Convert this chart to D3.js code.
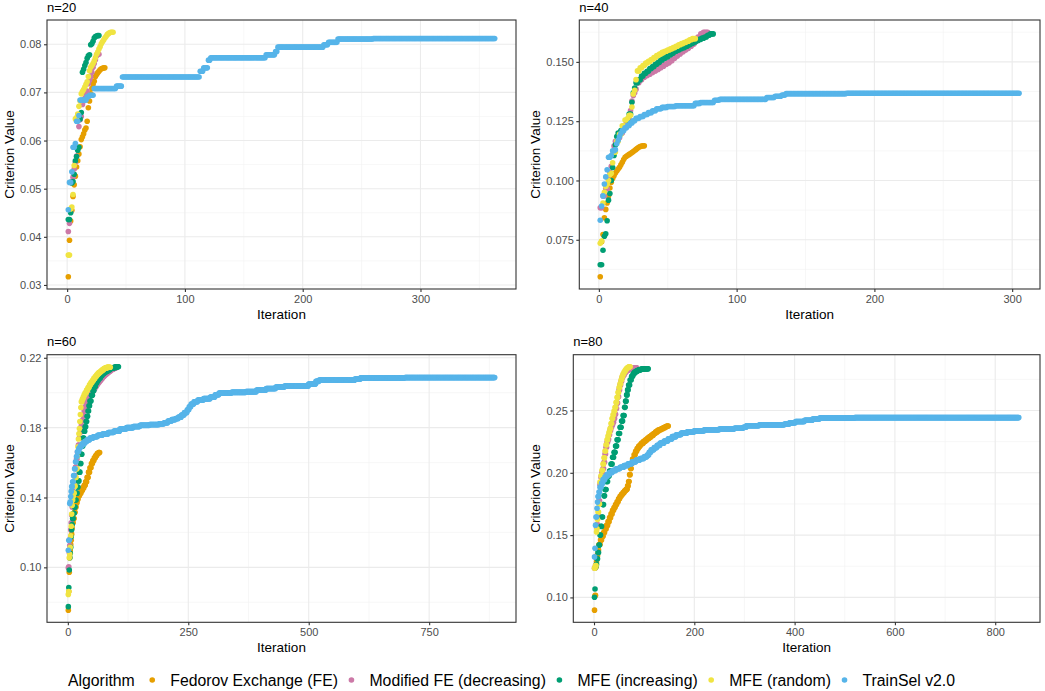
<!DOCTYPE html>
<html>
<head>
<meta charset="utf-8">
<script src="https://cdn.jsdelivr.net/npm/d3@7"></script>
<style>
  body { margin: 0; background: #fff; }
  svg { display: block; font-family: "Liberation Sans", Arial, sans-serif; }
</style>
</head>
<body>
<div id="chart"></div>
<script>
// algorithms, in legend / drawing order
const algorithms = ["Fedorov Exchange (FE)", "Modified FE (decreasing)", "MFE (increasing)", "MFE (random)", "TrainSel v2.0"];
const colors = ["#E69F00", "#CC79A7", "#009E73", "#F0E442", "#56B4E9"];
const panelTitles = ["n=20", "n=40", "n=60", "n=80"];

// each series: [iteration, criterion value]; the value is held until the next entry
// ---- n=20 ----
const fe20 = [[1,0.0317],[2,0.0393],[3,0.0433],[4,0.0455],[5,0.0484],[6,0.0508],[7,0.0526],[8,0.0545],[9,0.0558],[10,0.0572],[11,0.0587],[12,0.0602],[13,0.0608],[14,0.0614],[15,0.0622],[16,0.0626],[17,0.064],[18,0.0668],[19,0.0682],[20,0.0697],[21,0.0708],[22,0.0717],[23,0.0723],[24,0.0733],[25,0.0737],[26,0.0741],[27,0.0744],[28,0.0747],[29,0.0749],[30,0.075],[31,0.0751]];
const mfeDec20 = [[1,0.0411],[2,0.0428],[3,0.0452],[4,0.0515],[5,0.0524],[6,0.0541],[7,0.0555],[8,0.0568],[9,0.0585],[10,0.0629],[11,0.0643],[12,0.065],[13,0.0675],[14,0.0682],[15,0.0688],[16,0.0695],[17,0.0703],[18,0.0718],[19,0.0725],[20,0.0732],[21,0.0742],[22,0.0752],[23,0.076],[24,0.0768],[25,0.0776],[26,0.0779]];
const mfeInc20 = [[1,0.0436],[3,0.045],[4,0.0512],[5,0.0515],[6,0.053],[7,0.0558],[8,0.0567],[9,0.058],[10,0.0586],[11,0.0645],[12,0.0658],[13,0.0742],[14,0.0748],[15,0.0756],[16,0.0762],[17,0.0771],[18,0.0776],[19,0.0778],[20,0.0799],[21,0.0801],[22,0.0806],[23,0.0813],[24,0.0816],[25,0.0817],[26,0.0818]];
const mfeRand20 = [[1,0.0362],[3,0.0458],[4,0.0462],[5,0.0488],[6,0.0548],[7,0.0645],[8,0.0648],[9,0.0655],[10,0.0671],[11,0.0682],[12,0.0697],[13,0.0702],[14,0.0706],[15,0.0711],[16,0.0717],[17,0.0722],[18,0.0733],[19,0.0745],[20,0.0752],[21,0.0756],[22,0.076],[23,0.0765],[24,0.0772],[25,0.0779],[26,0.0784],[27,0.079],[28,0.0795],[29,0.0801],[30,0.0805],[31,0.0809],[32,0.0813],[33,0.0816],[34,0.082],[35,0.0822],[36,0.0824],[37,0.0825]];
const trainSel20 = [[1,0.0456],[2,0.0513],[4,0.0535],[5,0.0586],[7,0.0594],[8,0.064],[10,0.0652],[11,0.0684],[17,0.0691],[19,0.0694],[23,0.0708],[42,0.0713],[47,0.0732],[113,0.0744],[116,0.0751],[120,0.0767],[122,0.0772],[169,0.0778],[177,0.0785],[179,0.0794],[218,0.0799],[222,0.0804],[230,0.0811],[260,0.0812]];
const last20 = [32, 27, 27, 39, 363];
const xTicks20 = [0, 100, 200, 300];
const yTicks20 = [0.03, 0.04, 0.05, 0.06, 0.07, 0.08];

// ---- n=40 ----
const fe40 = [[1,0.0594],[2,0.0742],[3,0.0772],[4,0.0843],[5,0.0878],[6,0.0905],[7,0.0935],[8,0.0968],[9,0.0992],[10,0.1008],[11,0.102],[12,0.1031],[13,0.104],[14,0.1048],[15,0.1056],[16,0.1066],[17,0.1077],[18,0.1088],[19,0.1098],[20,0.1102],[21,0.1106],[22,0.111],[23,0.1114],[24,0.1118],[25,0.1122],[26,0.1126],[27,0.1131],[28,0.1136],[29,0.114],[30,0.1143],[31,0.1145],[32,0.1146]];
const mfeDec40 = [[1,0.0885],[3,0.0935],[5,0.0965],[7,0.1005],[8,0.1035],[9,0.106],[10,0.111],[11,0.1145],[12,0.1165],[14,0.118],[16,0.12],[18,0.1222],[20,0.1245],[22,0.1265],[23,0.1295],[24,0.1335],[25,0.1358],[26,0.137],[27,0.1385],[28,0.1412],[30,0.1425],[32,0.1435],[34,0.1442],[36,0.1448],[38,0.1455],[40,0.1462],[42,0.1468],[44,0.1475],[46,0.1482],[48,0.149],[50,0.1496],[52,0.1505],[54,0.1515],[56,0.1525],[58,0.1533],[60,0.1542],[62,0.155],[64,0.1557],[66,0.1566],[68,0.1575],[70,0.1588],[72,0.1605],[74,0.1618],[76,0.1625]];
const mfeInc40 = [[1,0.0645],[3,0.0706],[4,0.0765],[5,0.0775],[6,0.083],[7,0.0917],[8,0.0945],[9,0.1],[10,0.1055],[11,0.1105],[12,0.115],[13,0.1185],[14,0.12],[16,0.121],[18,0.1225],[20,0.1255],[22,0.128],[24,0.133],[25,0.137],[26,0.139],[27,0.1412],[29,0.1425],[31,0.144],[33,0.1452],[35,0.146],[37,0.1472],[39,0.148],[41,0.149],[43,0.1498],[45,0.1508],[47,0.1515],[49,0.1522],[51,0.153],[53,0.1537],[55,0.1545],[57,0.155],[59,0.1556],[61,0.156],[63,0.1566],[65,0.1572],[67,0.1578],[69,0.1584],[71,0.159],[73,0.1595],[75,0.16],[77,0.1605],[79,0.1612],[81,0.1618]];
const mfeRand40 = [[1,0.0735],[2,0.0745],[3,0.0905],[4,0.095],[5,0.0975],[6,0.0985],[7,0.1],[8,0.1025],[9,0.103],[10,0.1075],[11,0.112],[13,0.1165],[15,0.1195],[17,0.123],[19,0.1255],[21,0.1262],[22,0.1275],[24,0.131],[25,0.1365],[26,0.138],[27,0.1425],[28,0.1462],[30,0.1475],[32,0.1485],[34,0.1495],[36,0.1502],[38,0.151],[40,0.1518],[42,0.1527],[44,0.1533],[46,0.154],[48,0.1545],[50,0.155],[52,0.1555],[54,0.156],[56,0.1566],[58,0.1572],[60,0.1577],[62,0.1582],[64,0.1587],[66,0.1593],[68,0.1598]];
const trainSel40 = [[1,0.0832],[2,0.0892],[3,0.0935],[4,0.0985],[5,0.1015],[6,0.1045],[7,0.1098],[9,0.1105],[10,0.1125],[12,0.113],[13,0.1155],[14,0.117],[15,0.1185],[16,0.1198],[17,0.121],[19,0.1222],[21,0.1232],[23,0.1242],[25,0.1252],[27,0.1262],[30,0.127],[33,0.1278],[36,0.1286],[39,0.1294],[42,0.1302],[46,0.1308],[50,0.1312],[56,0.1315],[70,0.1325],[74,0.1329],[84,0.1338],[88,0.1342],[122,0.135],[128,0.1355],[133,0.136],[136,0.1366],[180,0.1368]];
const last40 = [33, 79, 83, 70, 305];
const xTicks40 = [0, 100, 200, 300];
const yTicks40 = [0.075, 0.1, 0.125, 0.15];

// ---- n=60 ----
const fe60 = [[1,0.0755],[2,0.0862],[3,0.0972],[4,0.1055],[5,0.1095],[6,0.113],[7,0.1155],[8,0.119],[9,0.1225],[10,0.1255],[12,0.128],[14,0.1315],[16,0.1345],[18,0.137],[20,0.139],[22,0.141],[25,0.1425],[28,0.144],[31,0.1455],[34,0.147],[37,0.149],[40,0.1515],[43,0.1545],[46,0.157],[49,0.1595],[52,0.1612],[55,0.1628],[58,0.164],[61,0.1652],[64,0.1658]];
const mfeDec60 = [[1,0.0998],[2,0.1003],[3,0.1085],[4,0.1125],[5,0.1165],[6,0.1215],[7,0.1255],[8,0.13],[9,0.1345],[10,0.1395],[11,0.1435],[12,0.1475],[14,0.1525],[16,0.1575],[18,0.162],[20,0.166],[22,0.17],[24,0.174],[26,0.1775],[28,0.181],[30,0.184],[32,0.1868],[34,0.1895],[36,0.192],[38,0.1942],[40,0.196],[42,0.1972],[45,0.1985],[48,0.1998],[51,0.201],[54,0.2022],[57,0.2035],[60,0.2048],[63,0.206],[66,0.207],[69,0.208],[72,0.209],[75,0.2098],[78,0.2106],[81,0.2113],[84,0.212],[87,0.2126],[90,0.2131],[93,0.2136],[96,0.214],[99,0.2143]];
const mfeInc60 = [[1,0.0775],[2,0.0885],[3,0.0985],[4,0.1055],[5,0.108],[6,0.1115],[7,0.1175],[8,0.1215],[9,0.1245],[10,0.128],[12,0.131],[14,0.1345],[16,0.1385],[18,0.1425],[20,0.146],[22,0.1495],[24,0.1545],[26,0.1595],[28,0.1648],[30,0.1695],[32,0.174],[34,0.178],[36,0.1805],[38,0.1835],[40,0.1865],[42,0.1895],[44,0.1925],[46,0.1952],[49,0.1985],[52,0.2012],[55,0.2035],[58,0.2055],[61,0.207],[64,0.2083],[68,0.2098],[72,0.211],[76,0.2118],[80,0.2125],[84,0.2132],[88,0.2138],[92,0.2142],[96,0.2145],[100,0.2148]];
const mfeRand60 = [[1,0.0845],[2,0.0862],[3,0.1055],[4,0.1075],[5,0.1115],[6,0.118],[7,0.1235],[8,0.1305],[9,0.1355],[10,0.1385],[11,0.1405],[12,0.1425],[14,0.1465],[16,0.1515],[18,0.1565],[20,0.1635],[21,0.169],[22,0.1735],[23,0.1765],[24,0.1795],[25,0.1835],[26,0.1875],[27,0.1915],[28,0.1948],[30,0.1962],[32,0.1975],[34,0.1988],[36,0.2],[39,0.2015],[42,0.203],[45,0.2045],[48,0.2058],[51,0.207],[54,0.2082],[57,0.2093],[60,0.2103],[63,0.2112],[66,0.2119],[69,0.2126],[72,0.2132],[75,0.2138],[78,0.2142],[81,0.2145],[84,0.2146]];
const trainSel60 = [[1,0.1098],[2,0.1155],[4,0.1365],[5,0.1375],[6,0.1405],[7,0.1435],[8,0.1462],[10,0.149],[12,0.1525],[14,0.1565],[16,0.1605],[18,0.1635],[20,0.1662],[23,0.1682],[26,0.1695],[30,0.1708],[35,0.172],[40,0.173],[46,0.174],[53,0.1748],[62,0.1756],[72,0.1764],[84,0.1772],[96,0.178],[108,0.1792],[122,0.18],[136,0.1806],[150,0.1813],[170,0.1818],[190,0.1822],[200,0.1828],[208,0.1838],[216,0.1846],[224,0.1852],[230,0.186],[236,0.1872],[242,0.1886],[248,0.1902],[252,0.192],[256,0.1935],[262,0.1948],[270,0.1958],[282,0.1966],[296,0.1975],[306,0.1988],[314,0.1998],[340,0.2002],[370,0.2006],[392,0.2015],[412,0.2024],[432,0.2033],[450,0.2038],[500,0.205],[515,0.2065],[522,0.2072],[596,0.2078],[608,0.2085],[700,0.2087]];
const last60 = [66, 100, 105, 88, 886];
const xTicks60 = [0, 250, 500, 750];
const yTicks60 = [0.1, 0.14, 0.18, 0.22];

// ---- n=80 ----
const fe80 = [[1,0.0898],[2,0.1015],[3,0.1018],[4,0.1245],[5,0.1285],[6,0.1335],[8,0.138],[10,0.1425],[13,0.146],[16,0.149],[19,0.152],[22,0.155],[25,0.1578],[28,0.1608],[31,0.164],[34,0.167],[37,0.17],[40,0.1722],[43,0.1745],[46,0.1768],[49,0.1792],[52,0.1812],[55,0.1828],[58,0.1842],[61,0.1855],[64,0.1868],[67,0.1895],[69,0.193],[71,0.1985],[73,0.2035],[75,0.2075],[77,0.211],[80,0.2145],[83,0.2172],[86,0.2195],[89,0.2212],[92,0.2225],[95,0.2238],[99,0.2252],[103,0.2265],[107,0.2278],[111,0.229],[115,0.2302],[119,0.2315],[123,0.2328],[127,0.234],[131,0.2348],[135,0.2356],[139,0.2364],[143,0.2371],[146,0.2376]];
const mfeDec80 = [[1,0.1235],[3,0.1255],[5,0.1565],[6,0.1585],[8,0.165],[10,0.1775],[12,0.1905],[14,0.1965],[16,0.2005],[18,0.2035],[20,0.2085],[22,0.215],[24,0.2205],[26,0.2245],[28,0.2268],[30,0.2305],[32,0.234],[34,0.2365],[36,0.2385],[38,0.2405],[40,0.2435],[42,0.247],[44,0.2515],[46,0.256],[48,0.261],[50,0.2665],[52,0.2705],[54,0.2735],[56,0.2765],[58,0.2785],[61,0.2805],[64,0.2818],[68,0.2828],[72,0.2835],[77,0.2839],[81,0.2842]];
const mfeInc80 = [[1,0.1002],[2,0.1068],[3,0.124],[4,0.1255],[5,0.1265],[6,0.131],[8,0.136],[10,0.142],[12,0.15],[14,0.157],[16,0.1645],[18,0.1745],[20,0.1815],[22,0.1865],[25,0.193],[28,0.1975],[31,0.2015],[34,0.207],[37,0.2125],[40,0.2165],[43,0.2215],[46,0.2265],[49,0.2315],[52,0.2365],[55,0.2415],[58,0.246],[61,0.2525],[63,0.2575],[65,0.2625],[67,0.2665],[69,0.2705],[72,0.2745],[75,0.2775],[78,0.2795],[81,0.2808],[85,0.2818],[89,0.2826],[94,0.2832],[100,0.2835]];
const mfeRand80 = [[1,0.1235],[3,0.1255],[5,0.1525],[6,0.155],[7,0.1625],[8,0.1685],[10,0.175],[12,0.1925],[14,0.1975],[16,0.202],[18,0.207],[20,0.212],[22,0.2175],[24,0.2225],[26,0.2265],[28,0.2295],[30,0.2325],[32,0.2355],[34,0.2395],[36,0.2435],[38,0.2465],[40,0.2495],[42,0.2525],[44,0.2565],[46,0.2605],[48,0.2645],[50,0.2685],[52,0.2715],[54,0.2745],[56,0.2772],[58,0.2792],[60,0.2808],[62,0.2821],[64,0.2832],[66,0.2841],[68,0.2846],[70,0.285]];
const trainSel80 = [[1,0.1325],[2,0.1395],[3,0.158],[4,0.1645],[6,0.1715],[7,0.1765],[8,0.181],[10,0.1845],[12,0.1885],[15,0.1915],[18,0.1945],[22,0.1968],[26,0.1985],[31,0.2002],[37,0.2018],[44,0.2032],[52,0.2045],[60,0.2058],[68,0.2072],[76,0.2088],[84,0.2102],[92,0.2115],[100,0.2128],[106,0.2142],[110,0.2165],[114,0.2185],[120,0.2202],[126,0.222],[132,0.2238],[140,0.2255],[148,0.2272],[156,0.229],[164,0.2305],[174,0.2318],[186,0.2328],[200,0.2336],[220,0.2345],[250,0.2352],[280,0.2358],[298,0.2366],[304,0.2378],[330,0.2385],[380,0.2392],[390,0.2402],[402,0.2412],[420,0.2422],[436,0.2432],[450,0.244],[520,0.2443]];
const last80 = [148, 85, 108, 72, 847];
const xTicks80 = [0, 200, 400, 600, 800];
const yTicks80 = [0.1, 0.15, 0.2, 0.25];

// layout: panel boxes [left, top, right, bottom] and y label format
const layout = [
  { box: [47, 20, 516, 289], fmt: ".2f" },
  { box: [579.3, 20, 1040, 289], fmt: ".3f" },
  { box: [47, 354.7, 516, 622.3], fmt: ".2f" },
  { box: [573.3, 354.7, 1040, 622.3], fmt: ".2f" }
];
const panelData = [
  { series: [fe20, mfeDec20, mfeInc20, mfeRand20, trainSel20], last: last20, xTicks: xTicks20, yTicks: yTicks20 },
  { series: [fe40, mfeDec40, mfeInc40, mfeRand40, trainSel40], last: last40, xTicks: xTicks40, yTicks: yTicks40 },
  { series: [fe60, mfeDec60, mfeInc60, mfeRand60, trainSel60], last: last60, xTicks: xTicks60, yTicks: yTicks60 },
  { series: [fe80, mfeDec80, mfeInc80, mfeRand80, trainSel80], last: last80, xTicks: xTicks80, yTicks: yTicks80 }
];

const W = 1045, H = 691, R = 2.8;
const svg = d3.select("#chart").append("svg").attr("width", W).attr("height", H);

// expand held values to one point per iteration
function expand(list, last, k) {
  const pts = [];
  list.forEach((s, i) => {
    const end = i + 1 < list.length ? list[i + 1][0] - 1 : last;
    for (let it = s[0]; it <= end; it++) pts.push({ iter: it, value: s[1], k: k });
  });
  return pts;
}

// minor breaks half-way between majors (ggplot style)
function minors(ticks, domain) {
  const step = ticks[1] - ticks[0];
  const out = [];
  for (let i = -1; i < ticks.length; i++) {
    const m = ticks[0] + (i + 0.5) * step;
    if (m > domain[0] && m < domain[1]) out.push(m);
  }
  return out;
}

panelData.forEach((p, pi) => {
  const [left, top, right, bottom] = layout[pi].box;
  const pts = p.series.flatMap((s, k) => expand(s, p.last[k], k));

  const xMax = d3.max(pts, d => d.iter), xMin = 1;
  const xPad = (xMax - xMin) * 0.05;
  const x = d3.scaleLinear().domain([xMin - xPad, xMax + xPad]).range([left, right]);
  const [yMin, yMax] = d3.extent(pts, d => d.value);
  const yPad = (yMax - yMin) * 0.05;
  const y = d3.scaleLinear().domain([yMin - yPad, yMax + yPad]).range([bottom, top]);

  const g = svg.append("g");

  // grid
  g.selectAll(".vmin").data(minors(p.xTicks, x.domain())).join("line")
    .attr("x1", d => x(d)).attr("x2", d => x(d)).attr("y1", top).attr("y2", bottom)
    .attr("stroke", "#F2F2F2").attr("stroke-width", 0.6);
  g.selectAll(".hmin").data(minors(p.yTicks, y.domain())).join("line")
    .attr("y1", d => y(d)).attr("y2", d => y(d)).attr("x1", left).attr("x2", right)
    .attr("stroke", "#F2F2F2").attr("stroke-width", 0.6);
  g.selectAll(".vmaj").data(p.xTicks).join("line")
    .attr("x1", d => x(d)).attr("x2", d => x(d)).attr("y1", top).attr("y2", bottom)
    .attr("stroke", "#EBEBEB").attr("stroke-width", 1.1);
  g.selectAll(".hmaj").data(p.yTicks).join("line")
    .attr("y1", d => y(d)).attr("y2", d => y(d)).attr("x1", left).attr("x2", right)
    .attr("stroke", "#EBEBEB").attr("stroke-width", 1.1);

  // points
  g.append("g").selectAll("circle").data(pts).join("circle")
    .attr("cx", d => x(d.iter)).attr("cy", d => y(d.value)).attr("r", R)
    .attr("fill", d => colors[d.k]);

  // border
  g.append("rect").attr("x", left).attr("y", top)
    .attr("width", right - left).attr("height", bottom - top)
    .attr("fill", "none").attr("stroke", "#333333").attr("stroke-width", 1.1);

  // axes
  const xAxis = g.append("g").attr("transform", `translate(0,${bottom})`)
    .call(d3.axisBottom(x).tickValues(p.xTicks).tickFormat(d3.format("d")).tickSize(3).tickPadding(3));
  const yAxis = g.append("g").attr("transform", `translate(${left},0)`)
    .call(d3.axisLeft(y).tickValues(p.yTicks).tickFormat(d3.format(layout[pi].fmt)).tickSize(3).tickPadding(2.5));
  [xAxis, yAxis].forEach(a => {
    a.select(".domain").remove();
    a.selectAll(".tick line").attr("stroke", "#333333").attr("stroke-width", 1.1);
    a.selectAll(".tick text").attr("fill", "#4D4D4D").style("font-size", "11px")
      .style("font-family", '"Liberation Sans", Arial, sans-serif');
  });

  let labW = 0;
  yAxis.selectAll(".tick text").each(function () { labW = Math.max(labW, this.getComputedTextLength()); });

  // titles
  g.append("text").attr("x", (left + right) / 2).attr("y", bottom + 30)
    .attr("text-anchor", "middle").style("font-size", "13.5px").attr("fill", "#000").text("Iteration");
  const tx = left - 5.5 - labW - 6;
  g.append("text").attr("transform", `translate(${tx},${(top + bottom) / 2}) rotate(-90)`)
    .attr("text-anchor", "middle").style("font-size", "13.5px").attr("fill", "#000").text("Criterion Value");
  g.append("text").attr("x", left).attr("y", top - 8.3)
    .style("font-size", "13px").attr("fill", "#000").text(panelTitles[pi]);
});

// legend
const lg = svg.append("g").attr("transform", "translate(0,680)");
const title = lg.append("text").attr("x", 68).attr("y", 5.6).style("font-size", "15.8px").attr("fill", "#000").text("Algorithm");
let cx = 68 + title.node().getComputedTextLength() + 17.5;
algorithms.forEach((a, k) => {
  lg.append("circle").attr("cx", cx).attr("cy", 0).attr("r", R).attr("fill", colors[k]);
  const t = lg.append("text").attr("x", cx + 18).attr("y", 5.6).style("font-size", "15.8px").attr("fill", "#000").text(a);
  cx = cx + 18 + t.node().getComputedTextLength() + 13.5;
});
</script>
</body>
</html>
